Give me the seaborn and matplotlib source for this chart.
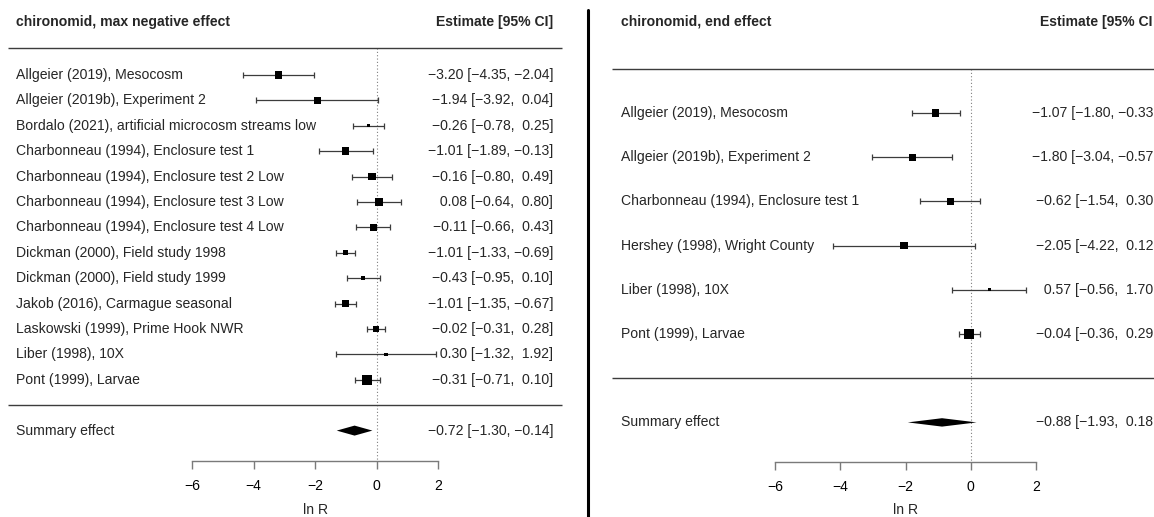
import numpy as np
import pandas as pd
import matplotlib
matplotlib.use("Agg")
import matplotlib.pyplot as plt
import seaborn as sns

# ==============================================================================
# DATA
# ==============================================================================
# panel 1: max negative effect
studies_max = [
    "Allgeier (2019), Mesocosm",
    "Allgeier (2019b), Experiment 2",
    "Bordalo (2021), artificial microcosm streams low",
    "Charbonneau (1994), Enclosure test 1",
    "Charbonneau (1994), Enclosure test 2 Low",
    "Charbonneau (1994), Enclosure test 3 Low",
    "Charbonneau (1994), Enclosure test 4 Low",
    "Dickman (2000), Field study 1998",
    "Dickman (2000), Field study 1999",
    "Jakob (2016), Carmague seasonal",
    "Laskowski (1999), Prime Hook NWR",
    "Liber (1998), 10X",
    "Pont (1999), Larvae",
]
est_max = [-3.20, -1.94, -0.26, -1.01, -0.16, 0.08, -0.11, -1.01, -0.43, -1.01, -0.02, 0.30, -0.31]
lo_max = [-4.35, -3.92, -0.78, -1.89, -0.80, -0.64, -0.66, -1.33, -0.95, -1.35, -0.31, -1.32, -0.71]
hi_max = [-2.04, 0.04, 0.25, -0.13, 0.49, 0.80, 0.43, -0.69, 0.10, -0.67, 0.28, 1.92, 0.10]
weight_max = [8.6, 8.6, 1.6, 9.8, 9.8, 11.2, 9.8, 4.4, 2.8, 8.6, 5.3, 2.1, 17.5]
summary_max = [-0.72, -1.30, -0.14]

# panel 2: end effect
studies_end = [
    "Allgeier (2019), Mesocosm",
    "Allgeier (2019b), Experiment 2",
    "Charbonneau (1994), Enclosure test 1",
    "Hershey (1998), Wright County",
    "Liber (1998), 10X",
    "Pont (1999), Larvae",
]
est_end = [-1.07, -1.80, -0.62, -2.05, 0.57, -0.04]
lo_end = [-1.80, -3.04, -1.54, -4.22, -0.56, -0.36]
hi_end = [-0.33, -0.57, 0.30, 0.12, 1.70, 0.29]
weight_end = [15.4, 15.4, 17.6, 17.6, 2.8, 31.3]
summary_end = [-0.88, -1.93, 0.18]

x_ticks = [-6, -4, -2, 0, 2]

# ==============================================================================
# LAYOUT (pixels)
# ==============================================================================
W, H = 1154, 517

# the right panel is cropped at the figure edge in the original, so its
# right-hand column stops before the closing bracket
layout_max = dict(span=(0, 580), zero=376.7, unit=30.75, row0=75.0, step=25.4,
                  rule_x=(8, 562), rule_y=(48, 405), label_x=16, est_x=553,
                  title_y=22, axis_y=460.5, lab_y=510, diamond=5.0, cropped=False)
layout_end = dict(span=(590, 1154), zero=970.7, unit=32.6, row0=113.0, step=44.2,
                  rule_x=(612, 1154), rule_y=(69, 378), label_x=621, est_x=1153,
                  title_y=22, axis_y=461.5, lab_y=510, diamond=4.2, cropped=True)

FS = 10.1
LINE_COL = "#3c3c3c"
AXIS_COL = "#7a7a7a"


def fmt(v):
    return f"{v:5.2f}".replace("-", "\u2212")


def ci_text(e, l, h, cropped=False):
    txt = f"{fmt(e)} [{fmt(l)}, {fmt(h)}]"
    return txt[:-1] if cropped else txt


def draw_panel(fig, lay, title, labels, est, lo, hi, weights, summary):
    x0, x1 = lay["span"]
    ax = fig.add_axes([x0 / W, 0, (x1 - x0) / W, 1])
    ax.patch.set_visible(False)

    def to_x(px):
        return (px - lay["zero"]) / lay["unit"]

    def to_row(py):
        return (py - lay["row0"]) / lay["step"]

    df = pd.DataFrame({"study": labels, "est": est, "lo": lo, "hi": hi, "weight": weights})
    df["row"] = np.arange(len(df))
    k = len(df)
    crop = lay["cropped"]

    # confidence intervals
    ax.errorbar(df["est"], df["row"],
                xerr=[df["est"] - df["lo"], df["hi"] - df["est"]],
                fmt="none", ecolor=LINE_COL, elinewidth=0.9,
                capsize=2, capthick=0.9, zorder=2)
    # weighted boxes
    sns.scatterplot(data=df, x="est", y="row", size="weight",
                    sizes=(0, 52), size_norm=(0, df["weight"].max()),
                    marker="s", color="black", linewidth=0,
                    legend=False, ax=ax, zorder=3)

    # summary diamond
    s_e, s_l, s_h = summary
    r_sum = k + 1
    hh = lay["diamond"] / lay["step"]
    ax.fill([s_l, s_e, s_h, s_e], [r_sum, r_sum - hh, r_sum, r_sum + hh],
            color="black", lw=0, zorder=3)

    # rules and reference line
    ax.hlines([to_row(y) for y in lay["rule_y"]],
              to_x(lay["rule_x"][0]), to_x(lay["rule_x"][1]),
              colors=LINE_COL, lw=1.0)
    ax.vlines(0, to_row(lay["rule_y"][0]), to_row(lay["axis_y"]), colors="#808080",
              linestyles=(0, (1, 2)), lw=0.8, zorder=1)

    # texts
    head = "Estimate [95% CI" if crop else "Estimate [95% CI]"
    ax.text(to_x(lay["label_x"]), to_row(lay["title_y"]), title,
            ha="left", va="center", fontsize=FS, fontweight="bold")
    ax.text(to_x(lay["est_x"]), to_row(lay["title_y"]), head,
            ha="right", va="center", fontsize=FS, fontweight="bold")
    for _, r in df.iterrows():
        ax.text(to_x(lay["label_x"]), r["row"], r["study"],
                ha="left", va="center", fontsize=FS)
        ax.text(to_x(lay["est_x"]), r["row"], ci_text(r["est"], r["lo"], r["hi"], crop),
                ha="right", va="center", fontsize=FS)
    ax.text(to_x(lay["label_x"]), r_sum, "Summary effect",
            ha="left", va="center", fontsize=FS)
    ax.text(to_x(lay["est_x"]), r_sum, ci_text(s_e, s_l, s_h, crop),
            ha="right", va="center", fontsize=FS)
    ax.text(np.mean([x_ticks[0], x_ticks[-1]]), to_row(lay["lab_y"]), "ln R",
            ha="center", va="center", fontsize=FS)

    # x axis
    ax.set_xlim(to_x(x0), to_x(x1))
    ax.set_ylim(to_row(H), to_row(0))
    for side in ["left", "right", "top"]:
        ax.spines[side].set_visible(False)
    ax.spines["bottom"].set_position(("data", to_row(lay["axis_y"])))
    ax.spines["bottom"].set_bounds(x_ticks[0], x_ticks[-1])
    ax.spines["bottom"].set_color(AXIS_COL)
    ax.spines["bottom"].set_linewidth(1.0)
    ax.set_xticks(x_ticks)
    ax.set_yticks([])
    ax.tick_params(axis="x", bottom=True, direction="out", length=5.5, width=1.0,
                   color=AXIS_COL, labelsize=FS, labelcolor="black", pad=8)
    ax.set_xlabel("")
    ax.set_ylabel("")
    return ax


sns.set_theme(style="white")
plt.rcParams["font.family"] = ["Liberation Sans", "DejaVu Sans"]
plt.rcParams["axes.unicode_minus"] = True

fig = plt.figure(figsize=(W / 100, H / 100), dpi=100)
fig.patch.set_facecolor("white")

draw_panel(fig, layout_max, "chironomid, max negative effect",
           studies_max, est_max, lo_max, hi_max, weight_max, summary_max)
draw_panel(fig, layout_end, "chironomid, end effect",
           studies_end, est_end, lo_end, hi_end, weight_end, summary_end)

# divider between the two forest plots
fig.add_artist(plt.Line2D([588 / W, 588 / W], [1 - 10 / H, 0], color="black", lw=2.2))

fig.savefig("out.png", dpi=100)
